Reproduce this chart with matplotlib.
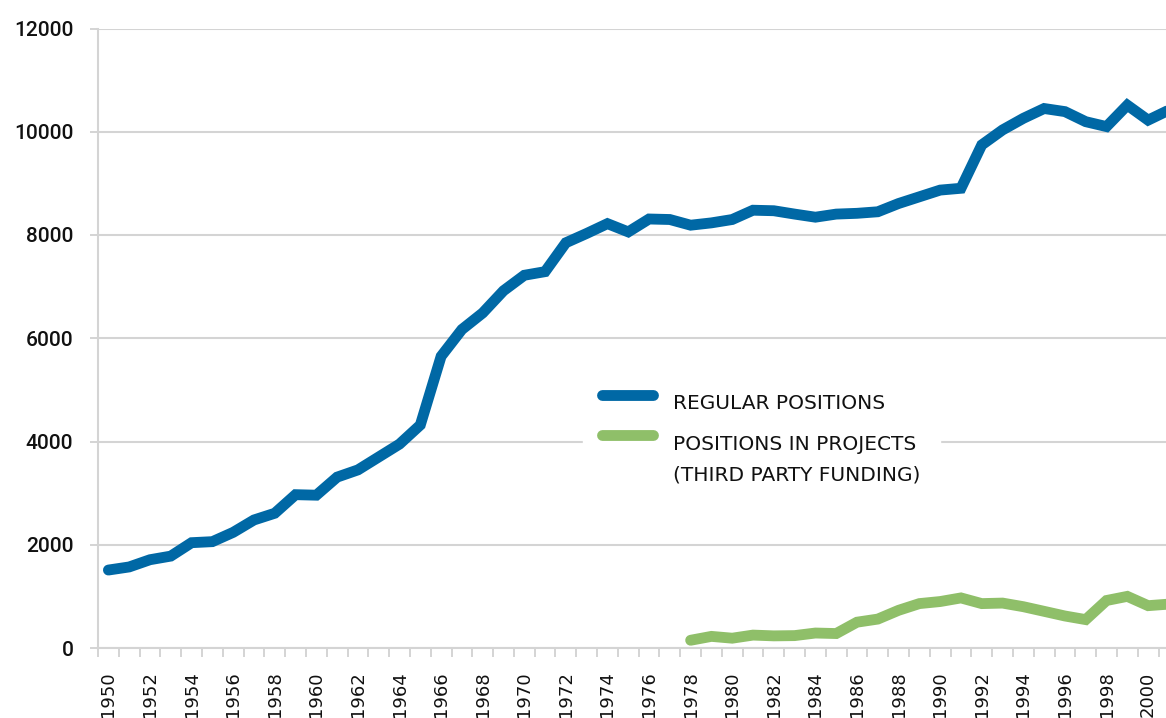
import numpy as np
import matplotlib
matplotlib.use("Agg")
import matplotlib.pyplot as plt
from matplotlib.lines import Line2D

# ---- data ----
years = list(range(1950, 2002))
regular_positions = [1510, 1570, 1710, 1780, 2040, 2060, 2240, 2480, 2610, 2970,
                     2960, 3310, 3450, 3700, 3950, 4320, 5650, 6170, 6490, 6920,
                     7220, 7290, 7850, 8030, 8220, 8060, 8310, 8300, 8190, 8235,
                     8300, 8480, 8470, 8405, 8345, 8405, 8420, 8450, 8610, 8740,
                     8870, 8905, 9745, 10035, 10260, 10450, 10390, 10195, 10100, 10515,
                     10225, 10420]
project_years = list(range(1978, 2002))
project_positions = [150, 225, 190, 250, 235, 240, 290, 280, 500, 560,
                     730, 860, 900, 970, 860, 870, 800, 710, 620, 550,
                     920, 1000, 820, 850]
ytick_values = [0, 2000, 4000, 6000, 8000, 10000, 12000]
xtick_years = list(range(1950, 2001, 2))
labels = ["REGULAR POSITIONS", "POSITIONS IN PROJECTS\n(THIRD PARTY FUNDING)"]

BLUE = "#0068a5"
GREEN = "#8fbf69"
GRID = "#d4d4d4"

plt.rcParams['font.family'] = ['DejaVu Sans']

W, H = 1166, 718
fig = plt.figure(figsize=(W / 100, H / 100), dpi=100)
ax = fig.add_axes([98 / W, 1 - 648 / H, (W - 98) / W, (648 - 28.5) / H])

l1, = ax.plot(years, regular_positions, color=BLUE, lw=7.8,
              solid_capstyle='round', solid_joinstyle='miter', zorder=3)
l2, = ax.plot(project_years, project_positions, color=GREEN, lw=7.8,
              solid_capstyle='round', solid_joinstyle='miter', zorder=3)

ax.set_xlim(1949.5, 2000.86)
ax.set_ylim(0, 12000)

ax.set_yticks(ytick_values)
ax.set_yticklabels([str(v) for v in ytick_values])
for t in ax.get_yticklabels():
    t.set_fontfamily(['Roboto', 'DejaVu Sans'])
    t.set_fontweight('medium')
ax.yaxis.grid(True, color=GRID, lw=1.5)
ax.set_axisbelow(True)
ax.tick_params(axis='y', length=5.8, width=1.4, color=GRID, pad=12, labelsize=15,
               labelcolor='#111111')

ax.set_xticks(xtick_years)
ax.set_xticklabels([str(y) for y in xtick_years], rotation=90)
ax.set_xticks(np.arange(1949.5, 2001, 1), minor=True)
ax.tick_params(axis='x', which='major', length=0, pad=17, labelsize=13,
               labelcolor='#111111')
ax.tick_params(axis='x', which='minor', length=6.5, width=1.4, color=GRID)

for s in ['top', 'right']:
    ax.spines[s].set_visible(False)
for s in ['left', 'bottom']:
    ax.spines[s].set_color(GRID)
    ax.spines[s].set_linewidth(1.5)

fs = 14.5
ls = 1.75
leg = ax.legend([l1, l2], labels, loc='upper left',
                bbox_to_anchor=(583 / W, 1 - 375 / H), bbox_transform=fig.transFigure,
                frameon=True, fancybox=False, framealpha=1, edgecolor='white',
                facecolor='white', fontsize=fs, handlelength=2.53,
                handletextpad=1.0, labelspacing=1.1, borderpad=0.95,
                borderaxespad=0)
leg.set_zorder(5)
for t in leg.get_texts():
    t.set_color('#111111')
leg.get_texts()[1].set_linespacing(ls)
# align handles with the first text line, slightly above cap middle
hs = leg.legend_handles
hs[0].set_ydata(np.asarray(hs[0].get_ydata()) + 5)
hs[1].set_ydata(np.asarray(hs[1].get_ydata()) + 18)

fig.savefig("out.png", dpi=100)
